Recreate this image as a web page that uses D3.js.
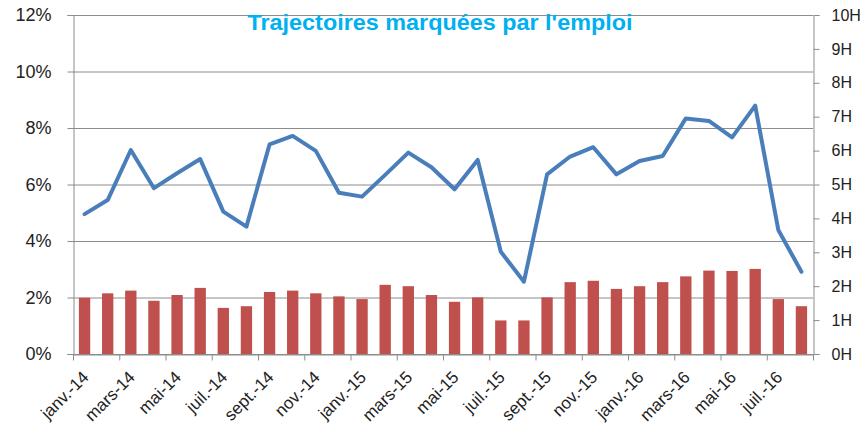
<!DOCTYPE html>
<html>
<head>
<meta charset="utf-8">
<script src="https://cdn.jsdelivr.net/npm/d3@7"></script>
<style>
  body { margin: 0; background: #fff; }
  text { font-family: "Liberation Sans", Arial, sans-serif; fill: #222; }
</style>
</head>
<body>
<svg id="chart" width="863" height="430"></svg>
<script>
// months jan 2014 -> aug 2016
var months = ['janv.-14','févr.-14','mars-14','avr.-14','mai-14','juin-14','juil.-14','août-14','sept.-14','oct.-14','nov.-14','déc.-14',
  'janv.-15','févr.-15','mars-15','avr.-15','mai-15','juin-15','juil.-15','août-15','sept.-15','oct.-15','nov.-15','déc.-15',
  'janv.-16','févr.-16','mars-16','avr.-16','mai-16','juin-16','juil.-16','août-16'];

// line, left axis (%)
var rateValues = [4.95, 5.45, 7.22, 5.87, 6.4, 6.9, 5.04, 4.51, 7.42, 7.72, 7.19, 5.71, 5.57, 6.34, 7.13, 6.61,
  5.83, 6.87, 3.62, 2.56, 6.36, 6.99, 7.32, 6.36, 6.83, 7.01, 8.34, 8.25, 7.67, 8.79, 4.39, 2.91];

// bars, right axis (H)
var hourValues = [1.66, 1.79, 1.87, 1.57, 1.74, 1.95, 1.36, 1.41, 1.83, 1.87, 1.79, 1.70, 1.62, 2.04, 2.0, 1.74,
  1.54, 1.67, 0.99, 0.99, 1.67, 2.12, 2.16, 1.92, 2.0, 2.12, 2.29, 2.46, 2.45, 2.51, 1.62, 1.41];

var leftTicks = [0, 2, 4, 6, 8, 10, 12];
var rightTicks = [0, 1, 2, 3, 4, 5, 6, 7, 8, 9, 10];
var title = "Trajectoires marquées par l'emploi";

var plotLeft = 73, plotRight = 813, plotTop = 15, plotBottom = 354;
var svg = d3.select('#chart');

var x = d3.scaleBand().domain(months).range([plotLeft, plotRight]);
var bar = d3.scaleBand().domain(months).range([plotLeft, plotRight]).paddingInner(0.51).paddingOuter(0.255);
var yL = d3.scaleLinear().domain([0, 12]).range([plotBottom, plotTop]);
var yR = d3.scaleLinear().domain([0, 10]).range([plotBottom, plotTop]);

// gridlines
svg.append('g')
  .selectAll('line')
  .data(leftTicks)
  .enter()
  .append('line')
  .attr('x1', plotLeft)
  .attr('x2', plotRight)
  .attr('y1', (d) => yL(d) + 0.5)
  .attr('y2', (d) => yL(d) + 0.5)
  .attr('stroke', '#8c8c8c')
  .attr('stroke-width', 1);

// bars
svg.append('g')
  .selectAll('rect')
  .data(hourValues)
  .enter()
  .append('rect')
  .attr('x', (d, i) => bar(months[i]))
  .attr('width', bar.bandwidth())
  .attr('y', (d) => yR(d))
  .attr('height', (d) => plotBottom - yR(d))
  .attr('fill', '#c0504d');

// line
var line = d3.line()
  .x((d, i) => x(months[i]) + x.bandwidth() / 2)
  .y((d) => yL(d));

svg.append('path')
  .datum(rateValues)
  .attr('d', line)
  .attr('fill', 'none')
  .attr('stroke', '#4a7ebb')
  .attr('stroke-width', 4)
  .attr('stroke-linejoin', 'round')
  .attr('stroke-linecap', 'round');

// left axis
var axL = svg.append('g')
  .attr('transform', 'translate(' + (plotLeft + 0.5) + ',0)')
  .call(d3.axisLeft(yL).tickValues(leftTicks).tickFormat((d) => d + '%').tickSize(6).tickPadding(16));
axL.selectAll('line, path').attr('stroke', '#8c8c8c');
axL.selectAll('text').style('font-size', '18px').attr('fill', '#222');

// right axis
var axR = svg.append('g')
  .attr('transform', 'translate(' + (plotRight + 0.5) + ',0)')
  .call(d3.axisRight(yR).tickValues(rightTicks).tickFormat((d) => d + 'H').tickSize(6).tickPadding(12));
axR.selectAll('line, path').attr('stroke', '#8c8c8c');
axR.selectAll('text').style('font-size', '16px').attr('fill', '#222');

// bottom axis: ticks every two months
var idx = d3.scaleLinear().domain([0, months.length]).range([plotLeft, plotRight]);
var axB = svg.append('g')
  .attr('transform', 'translate(0,' + (plotBottom + 0.5) + ')')
  .call(d3.axisBottom(idx).tickValues(d3.range(0, months.length + 1, 2)).tickFormat('').tickSize(6).tickSizeOuter(0));
axB.selectAll('line, path').attr('stroke', '#8c8c8c');

svg.append('g')
  .selectAll('text')
  .data(months.filter((d, i) => i % 2 === 0))
  .enter()
  .append('text')
  .attr('transform', (d) => 'translate(' + (x(d) + x.bandwidth() / 2 + 1) + ',' + (plotBottom + 20) + ') rotate(-45)')
  .attr('text-anchor', 'end')
  .attr('dy', '0.35em')
  .style('font-size', '17px')
  .text((d) => d);

// title
svg.append('text')
  .attr('x', 440)
  .attr('y', 30)
  .attr('text-anchor', 'middle')
  .attr('textLength', 385)
  .attr('lengthAdjust', 'spacingAndGlyphs')
  .style('font-size', '22px')
  .style('font-weight', 'bold')
  .style('fill', '#00b0f0')
  .text(title);
</script>
</body>
</html>
